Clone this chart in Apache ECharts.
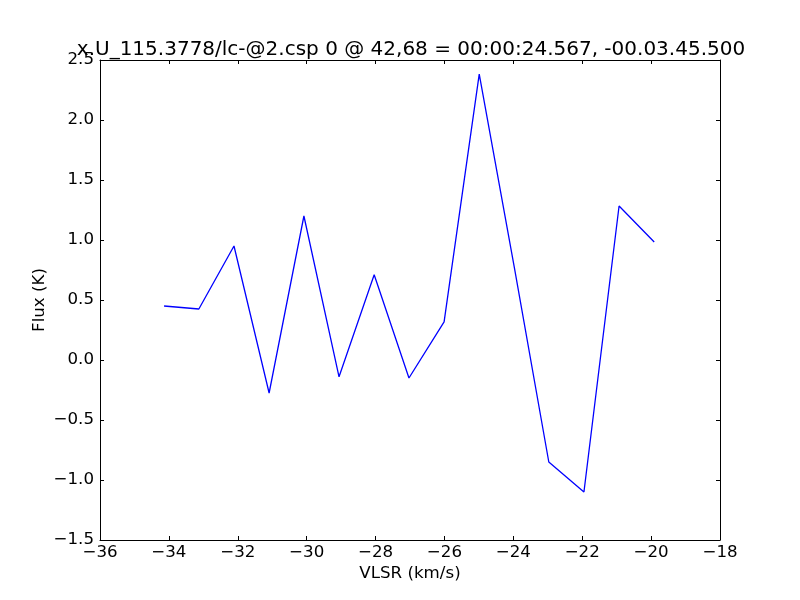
<!DOCTYPE html>
<html>
<head>
<meta charset="utf-8">
<script src="https://cdn.jsdelivr.net/npm/echarts@6/dist/echarts.min.js"></script>
<style>html,body{margin:0;padding:0;background:#fff;}#c{width:800px;height:600px;}</style>
</head>
<body>
<div id="c"></div>
<script>
const velocities = [-34.14, -33.13, -32.11, -31.09, -30.08, -29.06, -28.04, -27.03, -26.01, -24.99, -23.97, -22.97, -21.95, -20.93, -19.91];
const flux = [0.45, 0.425, 0.95, -0.275, 1.2, -0.14, 0.71, -0.15, 0.317, 2.383, 0.77, -0.85, -1.1, 1.283, 0.983];
const titleText = 'x.U_115.3778/lc-@2.csp 0 @ 42,68 = 00:00:24.567, -00.03.45.500';
const xName = 'VLSR (km/s)';
const yName = 'Flux (K)';

const font = 'DejaVu Sans';
const fs = 16.67;
const minus = s => String(s).replace('-', '\u2212');
const chart = echarts.init(document.getElementById('c'));
const tickStyle = {show: true, inside: true, length: 4, lineStyle: {color: '#000', width: 1}};
const lineStyle = {show: true, onZero: false, lineStyle: {color: '#000', width: 1}};
chart.setOption({
  animation: false,
  backgroundColor: '#fff',
  title: {text: titleText, left: 406, top: 35, textAlign: 'center',
    textStyle: {fontFamily: font, fontSize: 20, fontWeight: 'normal', color: '#000'}},
  grid: {left: 100, right: 80, top: 60, bottom: 60, containLabel: false},
  xAxis: [
    {type: 'value', min: -36, max: -18, interval: 2, position: 'bottom',
     name: xName, nameLocation: 'middle', nameGap: 25, nameMoveOverlap: false,
     nameTextStyle: {fontFamily: font, fontSize: fs, color: '#000'},
     axisLine: lineStyle, axisTick: tickStyle, splitLine: {show: false},
     axisLabel: {fontFamily: font, fontSize: fs, color: '#000', margin: 4, formatter: v => minus(v)}},
    {type: 'value', min: -36, max: -18, interval: 2, position: 'top',
     axisLine: lineStyle, axisTick: tickStyle, splitLine: {show: false}, axisLabel: {show: false}}
  ],
  yAxis: [
    {type: 'value', min: -1.5, max: 2.5, interval: 0.5, position: 'left',
     name: yName, nameLocation: 'middle', nameGap: 52, nameRotate: 90, nameMoveOverlap: false,
     nameTextStyle: {fontFamily: font, fontSize: fs, color: '#000'},
     axisLine: lineStyle, axisTick: tickStyle, splitLine: {show: false},
     axisLabel: {fontFamily: font, fontSize: fs, color: '#000', margin: 6, formatter: v => minus(v.toFixed(1))}},
    {type: 'value', min: -1.5, max: 2.5, interval: 0.5, position: 'right',
     axisLine: lineStyle, axisTick: tickStyle, splitLine: {show: false}, axisLabel: {show: false}}
  ],
  series: [{
    type: 'line', xAxisIndex: 0, yAxisIndex: 0,
    data: velocities.map((v, i) => [v, flux[i]]),
    showSymbol: false, symbol: 'none',
    lineStyle: {color: '#0000ff', width: 1.3}
  }]
});
</script>
</body>
</html>
